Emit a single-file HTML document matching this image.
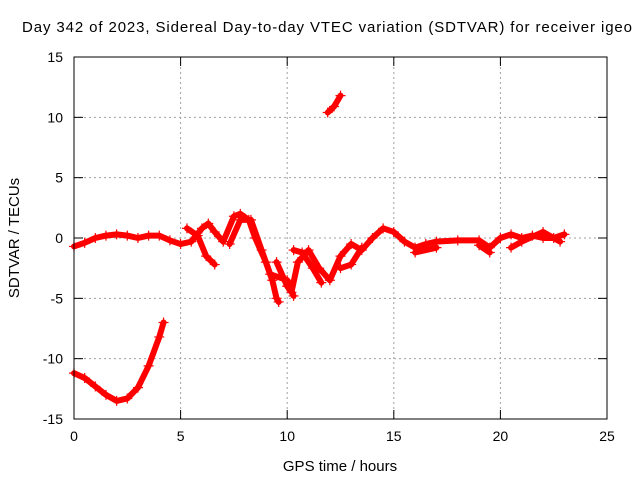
<!DOCTYPE html>
<html><head><meta charset="utf-8"><style>
body{margin:0;background:#fff}
svg{display:block;font-family:"Liberation Sans",sans-serif}
</style></head><body>
<svg id="chart" width="640" height="480">
<rect width="640" height="480" fill="#fff"/>
<text x="327" y="32" font-size="15" text-anchor="middle" textLength="610" lengthAdjust="spacing">Day 342 of 2023, Sidereal Day-to-day VTEC variation (SDTVAR) for receiver igeo</text>
<text x="340" y="471" font-size="15" text-anchor="middle">GPS time / hours</text>
<text x="19" y="238" font-size="15" text-anchor="middle" transform="rotate(-90 19 238)">SDTVAR / TECUs</text>
<g id="grid"></g><g id="ticks"></g><g id="marks"></g>
<rect x="74" y="57" width="533" height="362" fill="none" stroke="#000"/>
</svg>
<script>
const xTicks=[0,5,10,15,20,25];
const yTicks=[-15,-10,-5,0,5,10,15];
const seriesBottom=[[0,-11.2],[0.5,-11.6],[1,-12.3],[1.5,-13.0],[2,-13.5],[2.5,-13.3],[3,-12.4],[3.5,-10.6],[4,-8.2],[4.2,-7.0]];
const seriesIsland=[[11.9,10.4],[12.2,10.9],[12.5,11.8]];
const seriesMain=[[0,-0.7],[0.5,-0.4],[1,0],[1.5,0.2],[2,0.3],[2.5,0.2],[3,0],[3.5,0.2],[4,0.2],[4.5,-0.2],[5,-0.5],[5.5,-0.3],[6,0.8],[6.3,1.2],[6.6,0.5],[7,-0.3],[7.5,1.8],[7.8,2.0],[8.2,1.5],[8.5,0],[9,-2],[9.3,-3.5],[9.5,-5],[9.6,-5.3]];
const seriesMain2=[[9.5,-2],[10,-4],[10.2,-4.5],[10.5,-2],[11,-1],[11.5,-2.5],[12,-3.5],[12.5,-1.5],[13,-0.5],[13.5,-1],[14,0],[14.5,0.8],[15,0.5],[15.5,-0.3],[16,-0.8],[16.5,-0.5],[17,-0.3],[18,-0.2],[19,-0.2],[19.5,-0.8],[20,0],[20.5,0.3],[21,0],[21.5,0.2],[22,0],[22.5,0],[23,0.3]];
const strandA=[[5.3,0.8],[5.8,0.2],[6.2,-1.5],[6.6,-2.2]];
const strandB=[[7.3,-0.5],[7.8,1.5],[8.3,1.5],[8.8,-1],[9.2,-3],[10,-3.5],[10.3,-4.8]];
const strandC=[[10.3,-1],[10.7,-1.2],[11.2,-2.5],[11.6,-3.7]];
const strandD=[[12.5,-2.5],[13,-2.2],[13.5,-0.8]];
const strandE=[[16,-1.2],[17,-0.8]];
const strandF=[[19,-0.6],[19.5,-1.2]];
const strandG=[[20.5,-0.8],[21,-0.3],[22,0.5],[22.8,-0.3]];
const allSeries=[seriesBottom,seriesIsland,seriesMain,seriesMain2,strandA,strandB,strandC,strandD,strandE,strandF,strandG];
const X=v=>74+v*533/25, Y=v=>238-v*362/30;
const NS="http://www.w3.org/2000/svg";
const grid=document.getElementById('grid'),ticks=document.getElementById('ticks'),marks=document.getElementById('marks');
function mk(t,a,p){const e=document.createElementNS(NS,t);for(const k in a)e.setAttribute(k,a[k]);p.appendChild(e);return e;}
xTicks.forEach(v=>{const x=X(v);
 if(v>0&&v<25){const g=mk('line',{x1:x,x2:x,y1:57,y2:419,stroke:'#a0a0a0','stroke-dasharray':'2,3'},grid);
 
 }
 mk('line',{x1:x,x2:x,y1:419,y2:410,stroke:'#000'},ticks);mk('line',{x1:x,x2:x,y1:57,y2:66,stroke:'#000'},ticks);
 const t=mk('text',{x:x,y:441,'font-size':14,'text-anchor':'middle'},ticks);t.textContent=v;
 
 });
yTicks.forEach(v=>{const y=Y(v);
 if(v>-15&&v<15){const g=mk('line',{x1:74,x2:607,y1:y,y2:y,stroke:'#a0a0a0','stroke-dasharray':'2,3'},grid);
 
 }
 mk('line',{x1:74,x2:83,y1:y,y2:y,stroke:'#000'},ticks);mk('line',{x1:607,x2:598,y1:y,y2:y,stroke:'#000'},ticks);
 const t=mk('text',{x:63,y:y+5,'font-size':14,'text-anchor':'end'},ticks);t.textContent=v;
 
 });
allSeries.forEach(s=>{
 const p=mk('polyline',{points:s.map(d=>X(d[0])+','+Y(d[1])).join(' '),fill:'none',stroke:'#f00','stroke-width':6,'stroke-linejoin':'round','stroke-linecap':'round'},marks);
 
 
 s.forEach(d=>{const x=X(d[0]),y=Y(d[1]);
  const m=mk('path',{d:`M${x-5},${y}h10M${x},${y-5}v10`,stroke:'#f00','stroke-width':1.2},marks);
  
  });
});
</script>
</body></html>
